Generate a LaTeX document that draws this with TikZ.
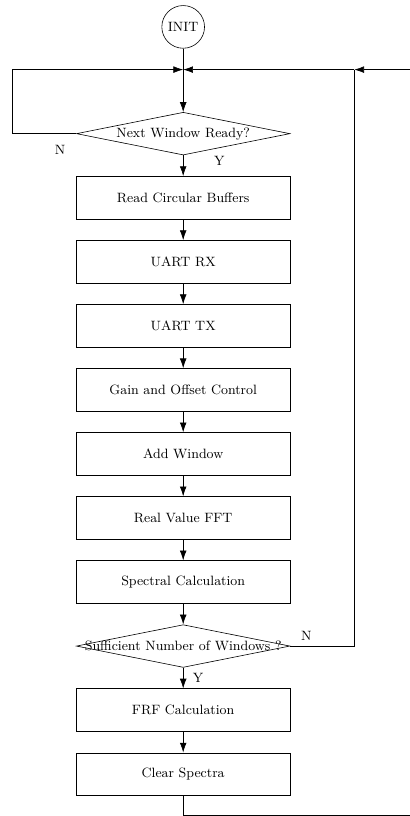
\documentclass[tikz,border=0pt]{standalone}
\usepackage{amsmath}
\usepackage{tikz}
\usetikzlibrary{shapes.geometric,positioning,arrows,arrows.meta}

\begin{document}
\begin{tikzpicture}[>={Latex[length=6.5pt,width=4.5pt]},node distance=1.5cm,on grid,auto,font=\small]
        \tikzstyle{block}=[draw,rectangle,minimum width=5cm,minimum height=1cm]
        \tikzstyle{decision}=[draw,diamond,minimum width=5cm,minimum height=1cm,inner sep=0pt]
        \tikzstyle{start}=[draw,circle,minimum size=1cm,inner sep=1pt]
        \useasboundingbox (0,0) rectangle (9.6,-19.11);
        \clip (0,0) rectangle (9.6,-19.11);
        \node[start] (In) at (4.29,-0.63) {INIT};
        \coordinate[below=1cm of In] (Jn);
        \node[decision] (Nw) [below=2.5cm of In] {\makebox[0pt]{Next Window Ready?}};
        \node[block] (Rb) [below=of Nw] {Read Circular Buffers};
        \node[block] (Rx) [below=of Rb] {UART RX};
        \node[block] (Tx) [below=of Rx] {UART TX};
        \node[block] (Go) [below=of Tx] {Gain and Offset Control};
        \node[block] (Aw) [below=of Go] {Add Window};
        \node[block] (Ff) [below=of Aw] {Real Value FFT};
        \node[block] (Sc) [below=of Ff] {Spectral Calculation};
        \node[decision] (Sw) [below=of Sc] {\makebox[0pt]{Sufficient Number of Windows ?}};
        \node[block] (Fr) [below=of Sw] {FRF Calculation};
        \node[block] (Cs) [below=of Fr] {Clear Spectra};
        % corner points of the two return loops
        \coordinate[right=1.5cm of Sw.east] (Sn);
        \coordinate (Sj) at (Sn |- Jn);
        \coordinate[right=3cm of Sw.east] (Rt);
        \coordinate[below=0.97cm of Cs] (Cb);
        \draw (In) -- (Jn);
        \path[->]
        (Jn) edge (Nw)
        (Nw) edge node[near start,right,xshift=0.6cm] {Y} (Rb)
        (Rb) edge (Rx)
        (Rx) edge (Tx)
        (Tx) edge (Go)
        (Go) edge (Aw)
        (Aw) edge (Ff)
        (Ff) edge (Sc)
        (Sc) edge (Sw)
        (Sw) edge node[right,xshift=0.1cm] {Y} (Fr)
        (Fr) edge (Cs);
        \draw[->] (Nw.west) -- node[near start,below,yshift=-0.15cm] {N} ++(-1.5cm,0) |- (Jn);
        \draw (Sw.east) -- node[near start,above] {N} (Sn) -- (Sj);
        \draw[->] (Sj) -- (Jn);
        \draw[->] (Cs) -- (Cb) -| (Rt |- Jn) -- (Sj);
    \end{tikzpicture}
\end{document}
